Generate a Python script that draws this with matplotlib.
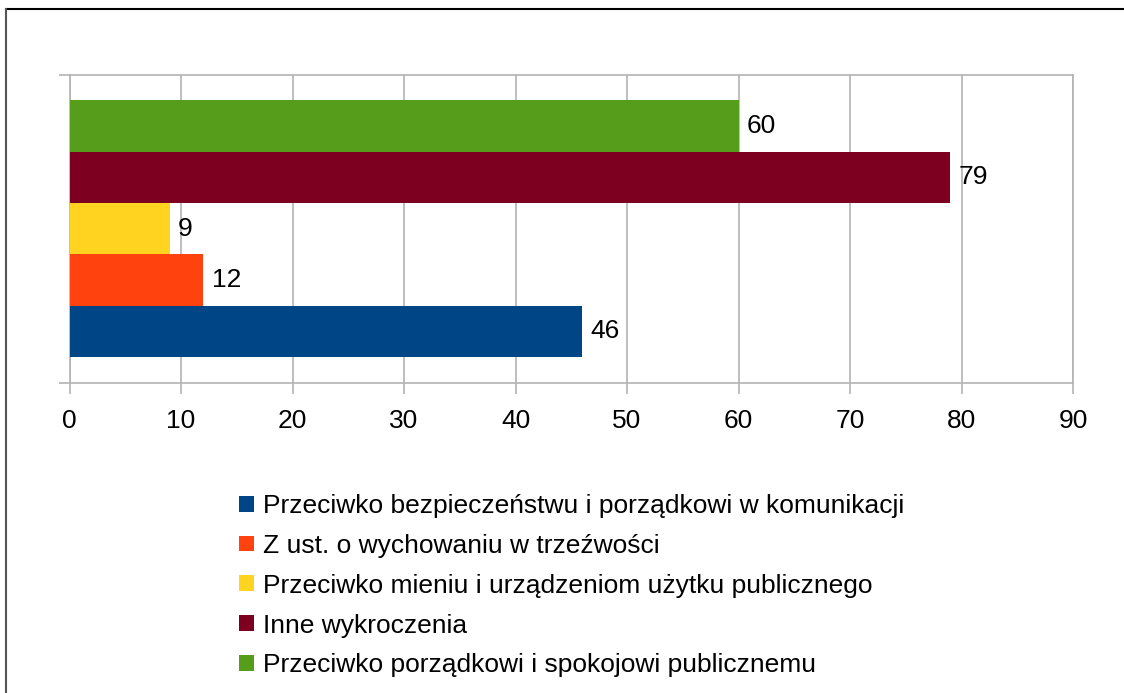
import matplotlib.pyplot as plt
from matplotlib.lines import Line2D

plt.rcParams['font.family'] = ['Liberation Sans', 'DejaVu Sans']

series = ['Przeciwko bezpieczeństwu i porządkowi w komunikacji',
          'Z ust. o wychowaniu w trzeźwości',
          'Przeciwko mieniu i urządzeniom użytku publicznego',
          'Inne wykroczenia',
          'Przeciwko porządkowi i spokojowi publicznemu']
values = [46, 12, 9, 79, 60]
colors = ['#004586', '#ff420e', '#ffd320', '#7e0021', '#579d1c']
xticks = [0, 10, 20, 30, 40, 50, 60, 70, 80, 90]

fig = plt.figure(figsize=(11.24, 6.93), dpi=100)
ax = fig.add_axes([69.5 / 1124, 1 - 383 / 693, (1073 - 69.5) / 1124, (383 - 74.5) / 693])

gap = 0.084
h = (1 - 2 * gap) / len(values)
handles = []
for i, (name, v, c) in enumerate(zip(series, values, colors)):
    b = ax.barh(gap + (i + 0.5) * h, v, height=h, color=c, label=name, zorder=3)
    ax.bar_label(b, padding=6, fontsize=19, color='black')
    handles.append(b)

ax.set_xlim(0, 90)
ax.set_ylim(0, 1)
ax.set_xticks(xticks)
ax.set_yticks([0, 1])
ax.set_yticklabels([])
ax.grid(axis='x', color='#b3b3b3', linewidth=1.2, zorder=0)
for s in ax.spines.values():
    s.set_color('#b3b3b3')
    s.set_linewidth(1.2)
ax.tick_params(axis='x', length=8, width=1.2, color='#b3b3b3', labelsize=19, pad=11)
ax.tick_params(axis='y', length=8, width=1.2, color='#b3b3b3')

fig.legend(handles=handles, labels=series, loc='upper left',
           bbox_to_anchor=(239 / 1124, 1 - 494 / 693), frameon=False,
           fontsize=19, handlelength=0.55, handleheight=0.55, handletextpad=0.35,
           labelspacing=0.6, borderpad=0, borderaxespad=0)

fig.add_artist(Line2D([6 / 1124, 1], [1 - 9 / 693, 1 - 9 / 693], color='black', linewidth=1.5))
fig.add_artist(Line2D([6 / 1124, 6 / 1124], [0, 1 - 9 / 693], color='#555555', linewidth=1.5))

fig.savefig('out.png', dpi=100)
